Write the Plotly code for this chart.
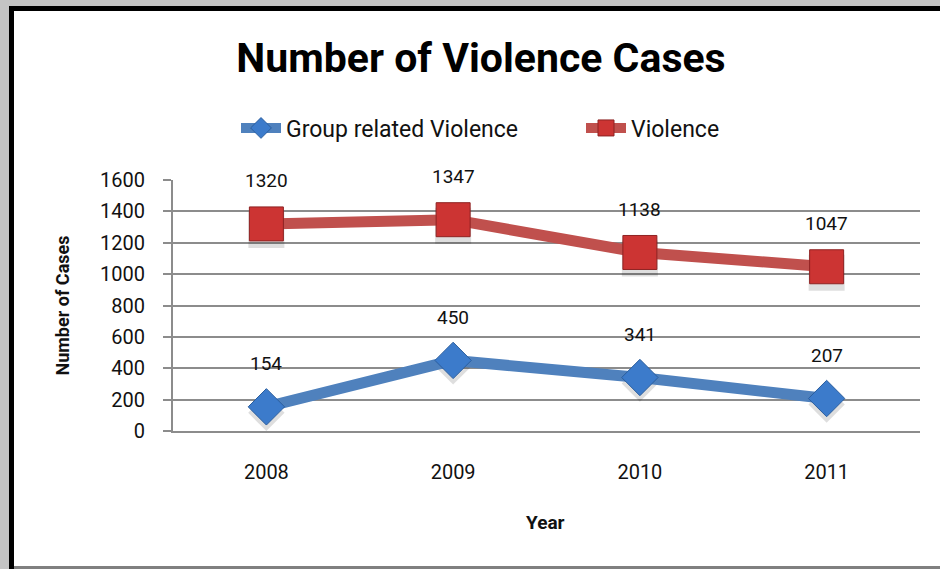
import plotly.graph_objects as go

years = ["2008", "2009", "2010", "2011"]
group_violence = [154, 450, 341, 207]
violence = [1320, 1347, 1138, 1047]
y_ticks = [0, 200, 400, 600, 800, 1000, 1200, 1400, 1600]

W, H = 940, 569
PL, PR, PT, PB = 173, 20, 180, 138
PW = W - PL - PR
PH = H - PT - PB
FONT = "Roboto, sans-serif"
RED_LINE = "#C0504D"
BLUE_LINE = "#4F81BD"
SHADOW_PX = 6


def px(x):
    return (x - PL) / PW


def py(y):
    return (H - PB - y) / PH


fig = go.Figure()

# soft marker shadows sit on the hidden base axis, nudged a few px down
shift = SHADOW_PX * 1600 / PH
fig.add_trace(go.Scatter(x=years, y=violence, mode="markers", showlegend=False, hoverinfo="skip",
                         marker=dict(symbol="square", size=36, color="rgba(0,0,0,0.13)", line=dict(width=0)),
                         xaxis="x", yaxis="y"))
fig.add_trace(go.Scatter(x=years, y=group_violence, mode="markers", showlegend=False, hoverinfo="skip",
                         marker=dict(symbol="diamond", size=28, color="rgba(0,0,0,0.13)", line=dict(width=0)),
                         xaxis="x", yaxis="y"))

fig.add_trace(go.Scatter(
    x=years, y=group_violence, name="Group related Violence", mode="lines+markers",
    line=dict(color=BLUE_LINE, width=11),
    marker=dict(symbol="diamond", size=28, color="#3C7BCB", line=dict(color="#2B5E9E", width=1)),
    xaxis="x", yaxis="y2"))
fig.add_trace(go.Scatter(
    x=years, y=violence, name="Violence", mode="lines+markers",
    line=dict(color=RED_LINE, width=11),
    marker=dict(symbol="square", size=34, color="#CC3433", line=dict(color="#8E2222", width=1)),
    xaxis="x", yaxis="y2"))

for series in (group_violence, violence):
    for i, v in enumerate(series):
        fig.add_annotation(x=i, y=v, xref="x", yref="y2", text=str(v), showarrow=False,
                           xanchor="center", yanchor="middle", yshift=43,
                           font=dict(family=FONT, size=19, color="#111"))

fig.add_annotation(x=px(62), y=0.5, xref="paper", yref="paper", text="<b>Number of Cases</b>",
                   textangle=-90, showarrow=False, xanchor="center", yanchor="middle",
                   font=dict(family=FONT, size=18, color="#111"))
fig.add_annotation(x=px(545), y=py(522), xref="paper", yref="paper", text="<b>Year</b>",
                   showarrow=False, xanchor="center", yanchor="middle",
                   font=dict(family=FONT, size=19, color="#111"))

# frame: grey outer edge, black border on left/top, grey line at bottom
shapes = [
    dict(type="rect", x0=px(0), x1=px(9), y0=py(H), y1=py(0), fillcolor="#c4c4c4", line_width=0),
    dict(type="rect", x0=px(0), x1=px(W), y0=py(6), y1=py(0), fillcolor="#c4c4c4", line_width=0),
    dict(type="rect", x0=px(9), x1=px(14), y0=py(H), y1=py(6), fillcolor="#000", line_width=0),
    dict(type="rect", x0=px(9), x1=px(W), y0=py(11), y1=py(6), fillcolor="#000", line_width=0),
    dict(type="rect", x0=px(14), x1=px(W), y0=py(H), y1=py(566), fillcolor="#808080", line_width=0),
]
for s in shapes:
    s.update(xref="paper", yref="paper", layer="below")

fig.update_layout(
    width=W, height=H,
    margin=dict(l=PL, r=PR, t=PT, b=PB),
    paper_bgcolor="white", plot_bgcolor="white",
    shapes=shapes,
    title=dict(text="<b>Number of Violence Cases</b>", xref="container", x=481 / W, xanchor="center",
               yref="container", y=1 - 58 / H, yanchor="middle", font=dict(family=FONT, size=41, color="#000")),
    legend=dict(orientation="h", x=px(236), xanchor="left", y=py(128), yanchor="middle",
                font=dict(family=FONT, size=23, color="#111"), itemwidth=40, entrywidth=290,
                bgcolor="rgba(0,0,0,0)"),
    xaxis=dict(type="category", range=[-0.5, 3.5], showgrid=False, showline=True, linecolor="#8c8c8c",
               linewidth=2, ticks="", ticklabelstandoff=22,
               tickfont=dict(family=FONT, size=20, color="#111"), fixedrange=True),
    yaxis=dict(range=[shift, 1600 + shift], visible=False, showgrid=False, fixedrange=True),
    yaxis2=dict(range=[0, 1600], overlaying="y", side="left", anchor="x", tickvals=y_ticks,
                showgrid=True, gridcolor="#8c8c8c", gridwidth=1.5, showline=True, linecolor="#8c8c8c",
                linewidth=2, ticks="outside", ticklen=8, tickcolor="#8c8c8c", tickwidth=1.5,
                ticklabelstandoff=14, tickfont=dict(family=FONT, size=20, color="#111"),
                zeroline=False, fixedrange=True),
    showlegend=True,
)

fig.write_html("out.html", config={"displayModeBar": False},
               post_script="document.body.style.margin='0px';")
